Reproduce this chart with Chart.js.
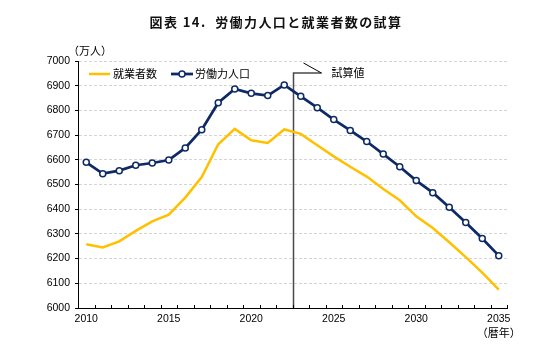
<!DOCTYPE html>
<html>
<head>
<meta charset="utf-8">
<script src="https://cdn.jsdelivr.net/npm/chart.js@4"></script>
<style>
html,body{margin:0;padding:0;background:#fff;}
canvas{display:block;}
</style>
</head>
<body>
<canvas id="c" width="534" height="347"></canvas>
<script>
const years = ['2010','2011','2012','2013','2014','2015','2016','2017','2018','2019','2020','2021','2022','2023','2024','2025','2026','2027','2028','2029','2030','2031','2032','2033','2034','2035'];
const laborForce = [6590,6544,6556,6578,6587,6599,6648,6722,6831,6887,6869,6860,6903,6857,6811,6763,6719,6674,6623,6572,6516,6467,6408,6346,6281,6212];
const employed = [6258,6245,6270,6312,6351,6378,6447,6530,6663,6725,6679,6668,6723,6705,6659,6614,6572,6532,6482,6436,6371,6324,6266,6206,6143,6074];
const yTicks = [6000,6100,6200,6300,6400,6500,6600,6700,6800,6900,7000];
const xLabelYears = ['2010','2015','2020','2025','2030','2035'];
const titleText = '図表 14.  労働力人口と就業者数の試算';
const unitText = '（万人）';
const xUnitText = '（暦年）';
const employedLabel = '就業者数';
const laborLabel = '労働力人口';
const estimateLabel = '試算値';
const estimateStartIndex = 12; // boundary after 2022

const NAVY = '#0e2a66';
const GOLD = '#ffc000';
const JP = '"Noto Sans CJK JP", "Liberation Sans", sans-serif';
const NUM = '"Liberation Sans", Arial, sans-serif';

const decor = {
  id: 'decor',
  beforeDatasetsDraw(chart) {
    const {ctx, chartArea: a, scales: {x}} = chart;
    const bx = Math.round((x.getPixelForValue(estimateStartIndex) + x.getPixelForValue(estimateStartIndex + 1)) / 2) + 0.5;
    const ty = a.top + 12;
    ctx.save();
    ctx.strokeStyle = '#4a4a4a';
    ctx.lineWidth = 1.5;
    ctx.beginPath();
    ctx.moveTo(bx, a.bottom);
    ctx.lineTo(bx, ty);
    ctx.lineTo(bx + 28, ty);
    ctx.stroke();
    ctx.strokeStyle = '#000';
    ctx.lineWidth = 1;
    ctx.beginPath();
    ctx.moveTo(bx + 10, ty - 10);
    ctx.lineTo(bx + 28, ty);
    ctx.stroke();
    ctx.fillStyle = '#000';
    ctx.font = '11px ' + JP;
    ctx.textAlign = 'left';
    ctx.textBaseline = 'middle';
    ctx.fillText(estimateLabel, bx + 38, ty);
    ctx.restore();
  },
  afterDraw(chart) {
    const {ctx, chartArea: a, scales: {x}} = chart;
    ctx.save();
    ctx.strokeStyle = '#000';
    ctx.lineWidth = 1;
    ctx.beginPath();
    for (let i = 0; i < years.length; i++) {
      const px = Math.round((x.getPixelForValue(i) + x.getPixelForValue(i + 1)) / 2) + 0.5;
      if (px > a.right + 1) continue;
      ctx.moveTo(px, a.bottom);
      ctx.lineTo(px, a.bottom - 3);
    }
    ctx.stroke();
    ctx.beginPath();
    ctx.moveTo(a.left, Math.round(a.bottom) + 0.5);
    ctx.lineTo(a.right, Math.round(a.bottom) + 0.5);
    ctx.stroke();

    ctx.fillStyle = '#111';
    ctx.font = 'bold 13px ' + JP;
    ctx.textAlign = 'center';
    ctx.textBaseline = 'middle';
    try { ctx.letterSpacing = '1.4px'; } catch (e) {}
    ctx.fillText(titleText, 276, 22);
    try { ctx.letterSpacing = '0px'; } catch (e) {}

    ctx.font = '11px ' + JP;
    ctx.fillStyle = '#000';
    ctx.fillText(unitText, a.left + 12, a.top - 10);
    ctx.fillText(xUnitText, x.getPixelForValue(years.length - 1), 333);

    const ly = a.top + 13;
    ctx.lineWidth = 2.5;
    ctx.strokeStyle = GOLD;
    ctx.beginPath();
    ctx.moveTo(a.left + 11, ly);
    ctx.lineTo(a.left + 32, ly);
    ctx.stroke();
    ctx.textAlign = 'left';
    ctx.fillText(employedLabel, a.left + 35, ly);
    ctx.strokeStyle = NAVY;
    ctx.lineWidth = 2.75;
    ctx.beginPath();
    ctx.moveTo(a.left + 93, ly);
    ctx.lineTo(a.left + 115, ly);
    ctx.stroke();
    ctx.beginPath();
    ctx.arc(a.left + 104, ly, 3, 0, Math.PI * 2);
    ctx.fillStyle = '#fff';
    ctx.fill();
    ctx.lineWidth = 1.5;
    ctx.stroke();
    ctx.fillStyle = '#000';
    ctx.fillText(laborLabel, a.left + 117, ly);
    ctx.restore();
  }
};

new Chart(document.getElementById('c'), {
  type: 'line',
  data: {
    labels: years,
    datasets: [
      {
        label: laborLabel,
        data: laborForce,
        borderColor: NAVY,
        borderWidth: 2.75,
        pointRadius: 3,
        pointBorderWidth: 1.5,
        pointBackgroundColor: '#fff',
        pointBorderColor: NAVY,
        tension: 0,
        order: 0
      },
      {
        label: employedLabel,
        data: employed,
        borderColor: GOLD,
        borderWidth: 2.5,
        pointRadius: 0,
        tension: 0,
        order: 1
      }
    ]
  },
  options: {
    responsive: false,
    animation: false,
    devicePixelRatio: 1,
    layout: { padding: { left: 0, right: 27, top: 61, bottom: 0 } },
    plugins: {
      legend: { display: false },
      tooltip: { enabled: false },
      title: { display: false }
    },
    scales: {
      x: {
        type: 'category',
        offset: true,
        grid: { display: true, drawOnChartArea: false, drawTicks: false, offset: true },
        border: { display: true, color: '#000', width: 1 },
        ticks: {
          autoSkip: false,
          maxRotation: 0,
          padding: 5,
          color: '#000',
          font: { family: NUM, size: 10.5 },
          callback: function (v, i) { const y = years[i]; return xLabelYears.includes(y) ? y : ''; }
        },
        afterFit(s) { s.height = 39; }
      },
      y: {
        min: yTicks[0],
        max: yTicks[yTicks.length - 1],
        afterBuildTicks(s) { s.ticks = yTicks.map(v => ({ value: v })); },
        grid: {
          color: (c) => (c.tick && c.tick.value === yTicks[0]) ? 'rgba(0,0,0,0)' : '#d4d4d4',
          lineWidth: 1,
          tickColor: '#000',
          tickLength: 3,
          tickBorderDash: []
        },
        border: { display: true, color: '#000', width: 1, dash: [3, 2] },
        ticks: {
          padding: 5,
          color: '#000',
          font: { family: NUM, size: 10.5 },
          callback: (v) => String(v)
        },
        afterFit(s) { s.width = 78; }
      }
    }
  },
  plugins: [decor]
});
</script>
</body>
</html>
